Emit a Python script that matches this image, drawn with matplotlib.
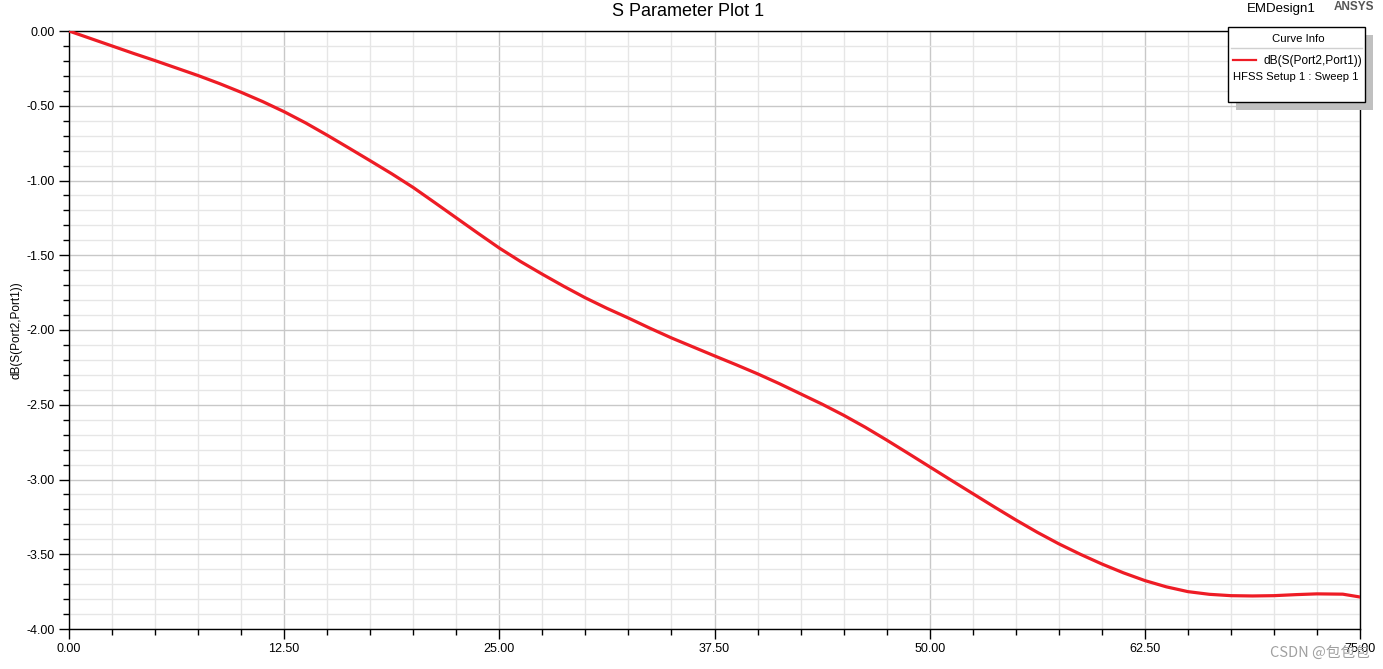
import matplotlib
matplotlib.use("Agg")
import matplotlib.pyplot as plt
from matplotlib.ticker import MultipleLocator, FormatStrFormatter
from matplotlib.patches import Rectangle
from matplotlib.lines import Line2D

plt.rcParams["font.family"] = ["Liberation Sans", "DejaVu Sans"]
plt.rcParams["axes.unicode_minus"] = False

# values
freq_ghz = [0, 1.25, 2.5, 3.75, 5, 6.25, 7.5, 8.75, 10, 11.25, 12.5, 13.75,
            15, 16.25, 17.5, 18.75, 20, 21.25, 22.5, 23.75, 25, 26.25, 27.5,
            28.75, 30, 31.25, 32.5, 33.75, 35, 36.25, 37.5, 38.75, 40, 41.25,
            42.5, 43.75, 45, 46.25, 47.5, 48.75, 50, 51.25, 52.5, 53.75, 55,
            56.25, 57.5, 58.75, 60, 61.25, 62.5, 63.75, 65, 66.25, 67.5,
            68.75, 70, 71.3, 72.5, 74, 75]
s21_db = [0.0, -0.050, -0.100, -0.150, -0.198, -0.248, -0.298, -0.352,
          -0.410, -0.472, -0.540, -0.615, -0.697, -0.782, -0.868, -0.955,
          -1.047, -1.148, -1.250, -1.352, -1.452, -1.543, -1.627, -1.708,
          -1.785, -1.855, -1.920, -1.988, -2.053, -2.113, -2.173, -2.232,
          -2.293, -2.358, -2.427, -2.496, -2.570, -2.650, -2.736, -2.825,
          -2.915, -3.005, -3.094, -3.183, -3.270, -3.353, -3.430, -3.500,
          -3.565, -3.624, -3.676, -3.718, -3.750, -3.768, -3.777, -3.779,
          -3.777, -3.770, -3.765, -3.767, -3.786]

curve_name = "dB(S(Port2,Port1))"
sweep_name = "HFSS Setup 1 : Sweep 1"

W, H = 1383, 669
fig = plt.figure(figsize=(W / 100, H / 100), dpi=100)
ax = fig.add_axes([69 / W, 1 - 629 / H, (1360 - 69) / W, (629 - 31) / H])

ax.plot(freq_ghz, s21_db, color="#ee1c25", lw=2.3, solid_joinstyle="round", zorder=3)

ax.set_xlim(0, 75)
ax.set_ylim(-4, 0)
ax.xaxis.set_major_locator(MultipleLocator(12.5))
ax.xaxis.set_minor_locator(MultipleLocator(2.5))
ax.yaxis.set_major_locator(MultipleLocator(0.5))
ax.yaxis.set_minor_locator(MultipleLocator(0.1))
ax.xaxis.set_major_formatter(FormatStrFormatter("%.2f"))
ax.yaxis.set_major_formatter(FormatStrFormatter("%.2f"))

ax.grid(which="major", color="#c8c8c8", lw=1.0)
ax.grid(which="minor", color="#e6e6e6", lw=1.0)
ax.set_axisbelow(True)

ax.tick_params(which="major", length=7, width=1, labelsize=9, color="black", pad=3)
ax.tick_params(which="minor", length=4, width=1, color="black")
for sp in ax.spines.values():
    sp.set_color("black")
    sp.set_linewidth(1.0)

ax.set_xlabel("Freq [GHz]", fontsize=9, labelpad=12)
ax.set_ylabel(curve_name, fontsize=8.5, labelpad=3)

fig.text(688 / W, 1 - 11 / H, "S Parameter Plot 1", ha="center", va="center", fontsize=13)
fig.text(1281 / W, 1 - 9 / H, "EMDesign1", ha="center", va="center", fontsize=9.5)
fig.text(1354 / W, 1 - 7 / H, "ANSYS", ha="center", va="center", fontsize=8.5,
         fontweight="bold", color="#555555")

# curve info box with drop shadow
bx0, by0, bx1, by1 = 1228, 27, 1365, 102
fig.patches.append(Rectangle(((bx0 + 8) / W, 1 - (by1 + 8) / H), (bx1 - bx0) / W,
                             (by1 - by0) / H, transform=fig.transFigure,
                             facecolor="#c0c0c0", edgecolor="none", zorder=5))
fig.patches.append(Rectangle((bx0 / W, 1 - by1 / H), (bx1 - bx0) / W, (by1 - by0) / H,
                             transform=fig.transFigure, facecolor="white",
                             edgecolor="black", lw=1.0, zorder=6))
fig.lines.append(Line2D([(bx0 + 3) / W, (bx1 - 3) / W], [1 - 48 / H, 1 - 48 / H],
                        transform=fig.transFigure, color="#d0d0d0", lw=1.0, zorder=7))
fig.text(1298 / W, 1 - 39 / H, "Curve Info", ha="center", va="center", fontsize=8.2, zorder=8)
fig.lines.append(Line2D([1233 / W, 1256 / W], [1 - 60 / H, 1 - 60 / H],
                        transform=fig.transFigure, color="#ee1c25", lw=1.6, zorder=7))
fig.text(1362 / W, 1 - 61 / H, curve_name, ha="right", va="center", fontsize=8.6, zorder=8)
fig.text(1233 / W, 1 - 77 / H, sweep_name, ha="left", va="center", fontsize=8.1, zorder=8)

fig.text(1370 / W, 1 - 653 / H, "CSDN @包包包", ha="right", va="center", fontsize=10.5,
         color="#a0a0a0", family=["Noto Sans CJK SC", "DejaVu Sans"], zorder=9)

fig.savefig("out.png", dpi=100)
